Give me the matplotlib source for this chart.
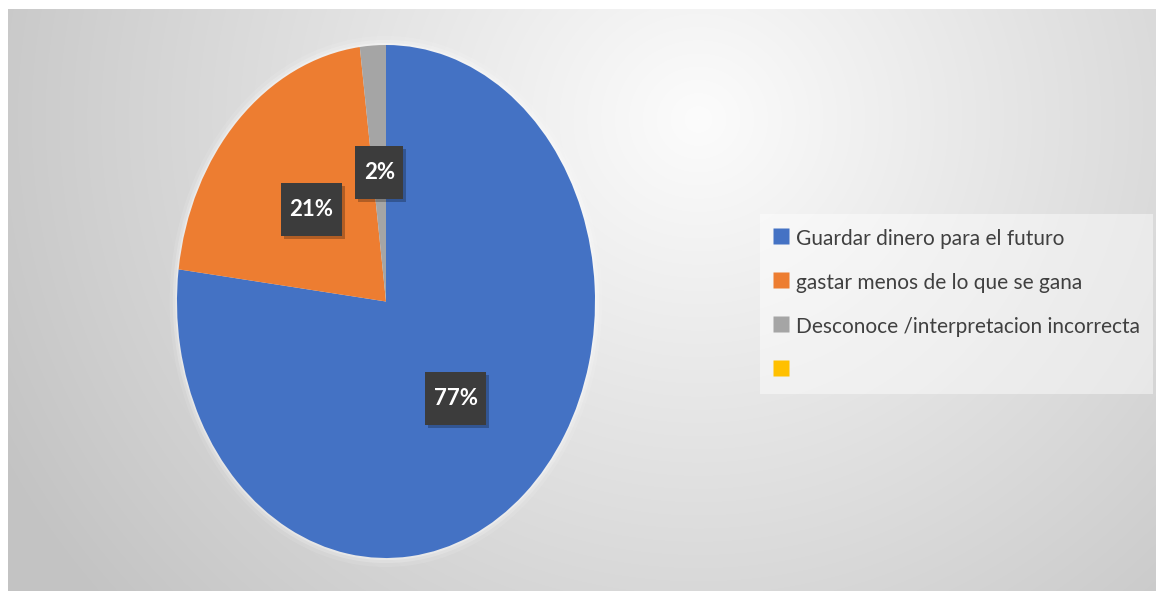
import numpy as np
import matplotlib
matplotlib.use("Agg")
import matplotlib.pyplot as plt
from matplotlib.patches import Ellipse
from matplotlib.lines import Line2D
from matplotlib.path import Path
from matplotlib import patheffects as pe

# Survey answers and their shares (%)
categories = [
    "Guardar dinero para el futuro",
    "gastar menos de lo que se gana",
    "Desconoce /interpretacion incorrecta",
    "",
]
shares = [77, 21, 2, 0]
colors = ["#4472C4", "#ED7D31", "#A5A5A5", "#FFC000"]

W, H = 1156, 591
fig = plt.figure(figsize=(W / 100, H / 100), dpi=100, facecolor="white")

# Soft radial backdrop of the chart area
bg = fig.add_axes([8 / W, 0, 1 - 8 / W, 1 - 9 / H])
bg.set_axis_off()
yy, xx = np.mgrid[0:582, 0:1148]
cx, cy = 690, 110
dist = np.sqrt((xx - cx) ** 2 + ((yy - cy) / 0.95) ** 2)
gray = np.clip(252 - 0.072 * dist, 195, 252) / 255.0
img = np.dstack([gray, gray, gray])
bg.imshow(img, aspect="auto", extent=(0, 1, 0, 1), origin="upper")
bg.set_xlim(0, 1)
bg.set_ylim(0, 1)

# Pie axes: the box is taller than wide, so the pie is drawn as an ellipse
left, right, top, bottom = 177, 595, 45, 558
ax = fig.add_axes([left / W, (H - bottom) / H, (right - left) / W, (bottom - top) / H])
ax.patch.set_alpha(0)

# faint light halo around the pie
for r, a in [(1.035, 0.10), (1.02, 0.18), (1.008, 0.3)]:
    ax.add_patch(Ellipse((0, 0), 2 * r, 2 * r, facecolor="white",
                         edgecolor="none", alpha=a, zorder=0, clip_on=False))

wedges, _, autotexts = ax.pie(
    shares,
    colors=colors,
    startangle=90,
    counterclock=False,
    radius=1,
    autopct=lambda p: f"{p:.0f}%" if p > 0 else "",
    pctdistance=0.505,
    wedgeprops=dict(linewidth=0, zorder=2),
    textprops=dict(color="white", fontsize=16, fontweight="bold", family="Lato"),
)
ax.set_aspect("auto")
ax.set_xlim(-1, 1)
ax.set_ylim(-1, 1)
ax.set_axis_off()


def label_box(x0, y0, width, height, mutation_size):
    """Rectangle with more vertical than horizontal padding."""
    px, py = 0.38 * mutation_size, 0.72 * mutation_size
    x0, y0 = x0 - px, y0 - py
    x1, y1 = x0 + width + 2 * px, y0 + height + 2 * py
    return Path([(x0, y0), (x1, y0), (x1, y1), (x0, y1), (x0, y0)], closed=True)


for t in autotexts:
    if not t.get_text():
        continue
    t.set_bbox(dict(boxstyle=label_box, facecolor="#3c3c3c", edgecolor="none"))
    t.get_bbox_patch().set_path_effects(
        [pe.SimplePatchShadow(offset=(2, -2), shadow_rgbFace="black", alpha=0.25), pe.Normal()]
    )

handles = [
    Line2D([], [], linestyle="none", marker="s", markersize=11,
           markerfacecolor=c, markeredgecolor="none")
    for c in colors
]
leg = fig.legend(
    handles,
    categories,
    loc="upper left",
    bbox_to_anchor=(760 / W, 1 - 214 / H),
    frameon=True,
    fancybox=False,
    framealpha=0.45,
    facecolor="white",
    edgecolor="none",
    prop=dict(family="Lato", size=15),
    labelcolor="#404040",
    numpoints=1,
    handlelength=0.75,
    handleheight=1.3,
    handletextpad=0.38,
    labelspacing=1.02,
    borderpad=0.62,
    borderaxespad=0,
)

fig.savefig("out.png", dpi=100, facecolor="white")
